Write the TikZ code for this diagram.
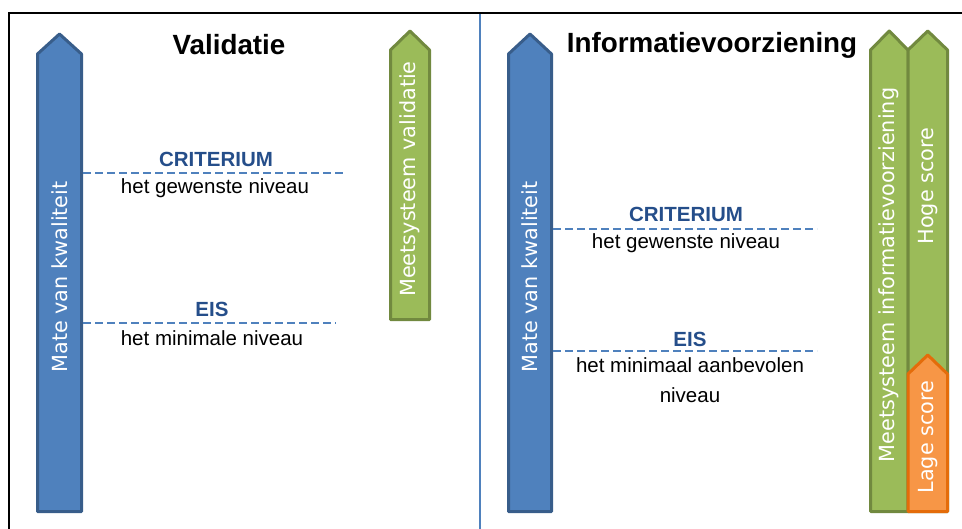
\documentclass[tikz,border=0pt]{standalone}
\usepackage{fontspec}
\setmainfont{Liberation Sans}
\newfontfamily\arrfont{DejaVu Sans}
\definecolor{bfill}{HTML}{4F81BD}
\definecolor{bline}{HTML}{385D8A}
\definecolor{gfill}{HTML}{9BBB59}
\definecolor{gline}{HTML}{71893F}
\definecolor{ofill}{HTML}{F79646}
\definecolor{oline}{HTML}{E46C0A}
\definecolor{lblue}{HTML}{254E8A}
\tikzset{
  barrow/.style={fill=bfill,draw=bline,line width=3pt,line join=round},
  garrow/.style={fill=gfill,draw=gline,line width=3pt,line join=round},
  oarrow/.style={fill=ofill,draw=oline,line width=3pt,line join=round},
  arrtext/.style={rotate=90,inner sep=0pt,text=white,font=\arrfont\fontsize{20.8}{25}\selectfont},
  title/.style={inner sep=0pt,font=\bfseries\fontsize{27.8}{32}\selectfont},
  lvl/.style={inner sep=0pt,text=lblue,font=\bfseries\fontsize{20.5}{24}\selectfont},
  desc/.style={inner sep=0pt,align=center,font=\fontsize{20.5}{30}\selectfont},
  dashline/.style={draw=bfill,line width=2pt,dash pattern=on 8pt off 4pt}
}
\begin{document}
\begin{tikzpicture}[x=1pt,y=-1pt]
\useasboundingbox (0,0) rectangle (962,528);
% frame
\draw[line width=2pt] (9,530) -- (9,13) -- (964,13);
\draw[draw=bfill,line width=2pt] (480,14) -- (480,530);
% left panel arrows
\draw[barrow] (37.5,511.5) -- (37.5,54) -- (59.5,34) -- (81.5,54) -- (81.5,511.5) -- cycle;
\coordinate (mqL) at (83,0);
\node[arrtext] (mqLt) at (59.5,277) {Mate van kwaliteit};
\draw[garrow] (390.5,319.5) -- (390.5,50) -- (410,31) -- (429.5,50) -- (429.5,319.5) -- cycle;
\node[arrtext] (msv) at (410,179) {Meetsysteem validatie};
% right panel arrows
\draw[barrow] (508.5,511.5) -- (508.5,54) -- (530,34) -- (551.5,54) -- (551.5,511.5) -- cycle;
\coordinate (mqR) at (553,0);
\node[arrtext] (mqRt) at (530,277) {Mate van kwaliteit};
\draw[garrow] (870.5,511.5) -- (870.5,50) -- (889.25,31) -- (908,50) -- (908,511.5) -- cycle;
\draw[garrow] (908,511.5) -- (908,50) -- (927.75,31) -- (947.5,50) -- (947.5,511.5) -- cycle;
\draw[oarrow] (908,511.5) -- (908,374) -- (927.75,355) -- (947.5,374) -- (947.5,511.5) -- cycle;
\node[arrtext] (msi) at (889,275) {Meetsysteem informatievoorziening};
\node[arrtext] (hoge) at (928,186) {Hoge score};
\node[arrtext] (lage) at (928,437) {Lage score};
% titles
\node[title] (t1) at (229,45) {Validatie};
\node[title] (t2) at (712,45) {Informatievoorziening};
% left levels
\node[lvl] (critL) at (216,159) {CRITERIUM};
\coordinate (critLend) at (345,173);
\draw[dashline] (mqL |- critLend) -- (critLend);
\node[desc] (critLd) at (215,188) {het gewenste niveau};
\node[lvl] (eisL) at (212,309) {EIS};
\coordinate (eisLend) at (336,323);
\draw[dashline] (mqL |- eisLend) -- (eisLend);
\node[desc] (eisLd) at (212,338) {het minimale niveau};
% right levels
\node[lvl] (critR) at (686,214) {CRITERIUM};
\coordinate (critRend) at (817,229);
\draw[dashline] (mqR |- critRend) -- (critRend);
\node[desc] (critRd) at (686,243) {het gewenste niveau};
\node[lvl] (eisR) at (690,339) {EIS};
\coordinate (eisRend) at (817,351);
\draw[dashline] (mqR |- eisRend) -- (eisRend);
\node[desc,anchor=north] (eisRd) at (690,357) {het minimaal aanbevolen\\niveau};
\end{tikzpicture}
\end{document}
